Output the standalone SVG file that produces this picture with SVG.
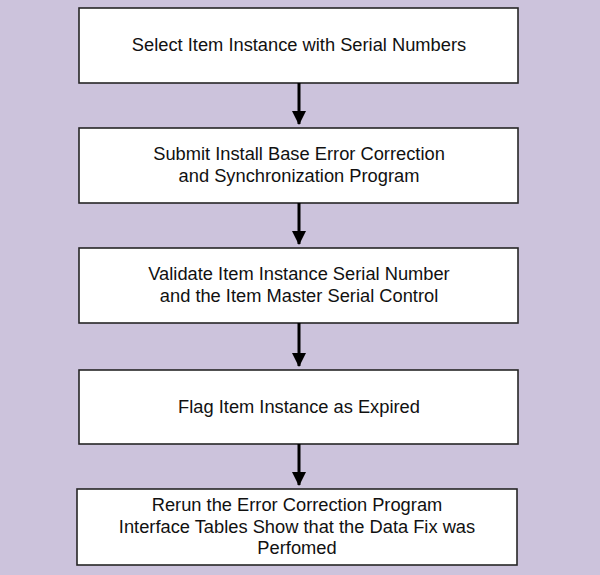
<svg xmlns="http://www.w3.org/2000/svg" width="600" height="575" viewBox="0 0 600 575">
<style>
.box{fill:#ffffff;stroke:#262626;stroke-width:1.6}
.t{font-family:"Liberation Sans",Arial,sans-serif;font-size:18.3px;fill:#111111;text-anchor:middle}
.c{stroke:#000000;stroke-width:3;fill:none;marker-end:url(#ah)}
</style>
<defs>
<marker id="ah" markerUnits="userSpaceOnUse" markerWidth="14" markerHeight="14" refX="13" refY="7" orient="auto" viewBox="0 0 14 14">
<path d="M0,0 L14,7 L0,14 Z" fill="#000000"/>
</marker>
</defs>
<rect width="600" height="575" fill="#CCC3DC"/>
<g id="n1"><rect class="box" x="79" y="8" width="439" height="75"/><text class="t" x="299" y="51">Select Item Instance with Serial Numbers</text></g>
<g id="n2"><rect class="box" x="79" y="128" width="439" height="75"/><text class="t" x="299" y="160">Submit Install Base Error Correction</text><text class="t" x="299" y="182">and Synchronization Program</text></g>
<g id="n3"><rect class="box" x="79" y="248" width="439" height="75"/><text class="t" x="299" y="280">Validate Item Instance Serial Number</text><text class="t" x="299" y="302">and the Item Master Serial Control</text></g>
<g id="n4"><rect class="box" x="79" y="370" width="439" height="74"/><text class="t" x="299" y="413">Flag Item Instance as Expired</text></g>
<g id="n5"><rect class="box" x="77" y="489" width="440" height="76"/><text class="t" x="297" y="511">Rerun the Error Correction Program</text><text class="t" x="297" y="533">Interface Tables Show that the Data Fix was</text><text class="t" x="297" y="554">Perfomed</text></g>
<g id="connectors">
<path class="c" d="M299,83 V124"/>
<path class="c" d="M299,203 V244"/>
<path class="c" d="M299,323 V366"/>
<path class="c" d="M299,444 V485"/>
</g>
</svg>
